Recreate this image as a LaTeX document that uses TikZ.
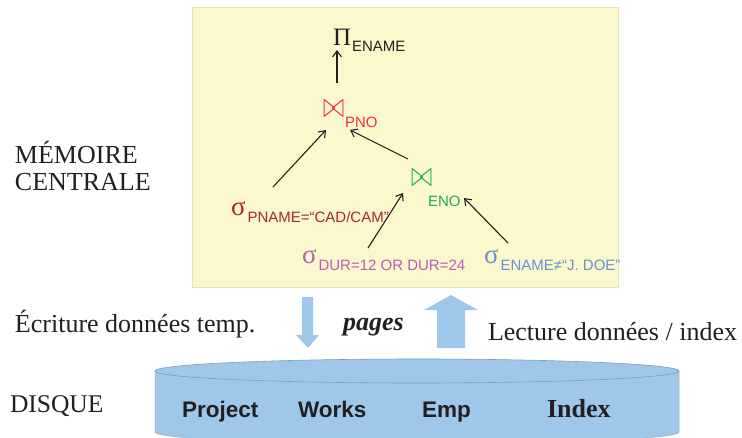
\RequirePackage{fix-cm}
\documentclass[tikz,border=0pt]{standalone}
\usepackage{fontspec}
\usepackage{graphicx}
\setmainfont{Liberation Serif}
\newfontfamily\arialf{Liberation Sans}
\usetikzlibrary{arrows.meta}
\definecolor{txt}{HTML}{231F20}
\definecolor{memfill}{HTML}{FBF8CD}
\definecolor{memedge}{HTML}{E6E2B6}
\definecolor{diskfill}{HTML}{9FC7EA}
\definecolor{diskedge}{HTML}{8AAFD0}
\definecolor{diskrim}{HTML}{7F9DB8}
\definecolor{redj}{HTML}{E8323E}
\definecolor{greenj}{HTML}{1CAF4E}
\definecolor{selred}{HTML}{A8282C}
\definecolor{selpurple}{HTML}{B160B5}
\definecolor{selblue}{HTML}{6B8FD3}
\newcommand{\subf}{\arialf\fontsize{15}{15}\selectfont}
\newcommand{\jointsym}{\scalebox{1.05}[1.45]{$\bowtie$}}
\begin{document}
\begin{tikzpicture}[x=1pt,y=-1pt,
  lbl/.style={inner sep=0pt, outer sep=0pt, anchor=base west},
  big/.style={lbl, font=\fontsize{26}{27}\selectfont, text=txt},
  arr/.style={-{Straight Barb[length=6pt,width=9pt]}, line width=1.1pt, draw=txt},
  opsym/.style={lbl, font=\fontsize{25}{25}\selectfont},
  sublbl/.style={lbl, font=\subf},
  sig/.style={lbl, font=\fontsize{27}{27}\selectfont},
  disktext/.style={lbl, font=\arialf\bfseries\fontsize{22.5}{22.5}\selectfont, text=txt},
  blockarrow/.style={fill=diskfill}]
\useasboundingbox (0,0) rectangle (742,437);

% main memory area
\filldraw[fill=memfill, draw=memedge, line width=0.6pt] (192,7) rectangle (618,287);

% tree nodes
\node[opsym, text=txt] (pisym) at (333,45) {Π};
\node[sublbl, text=txt] (ename) at (352,51) {ENAME};
\node[opsym, text=redj] (j1sym) at (323,117) {\jointsym};
\node[sublbl, text=redj] (pno) at (345,127) {PNO};
\node[opsym, text=greenj] (j2sym) at (411,186) {\jointsym};
\node[sublbl, text=greenj] (eno) at (428,206) {ENO};
\node[sig, text=selred] (s1) at (231,215) {σ\hspace{2pt}\raisebox{-7pt}{\subf PNAME=“CAD/CAM”}};
\node[sig, text=selpurple] (s2) at (302,263) {σ\hspace{2pt}\raisebox{-7pt}{\subf DUR=12 OR DUR=24}};
\node[sig, text=selblue] (s3) at (484,263) {σ\hspace{2pt}\raisebox{-7pt}{\subf ENAME≠“J. DOE”}};

% tree arrows
\draw[arr] ([shift={(14pt,34pt)}]j1sym.base west) -- ([shift={(4pt,-5pt)}]pisym.base west);
\draw[arr] ([shift={(42pt,28pt)}]s1.base west) -- ([shift={(3pt,-13pt)}]j1sym.base west);
\draw[arr] ([shift={(-3pt,27pt)}]j2sym.base west) -- ([shift={(27pt,-13pt)}]j1sym.base west);
\draw[arr] ([shift={(66pt,15pt)}]s2.base west) -- ([shift={(-8pt,-7pt)}]j2sym.base west);
\draw[arr] ([shift={(24pt,20pt)}]s3.base west) -- ([shift={(36pt,8pt)}]eno.base west);

% left labels
\node[big] (mem1) at (15,163) {MÉMOIRE};
\node[big] (mem2) at (15,190) {CENTRALE};
\node[big] (ecr) at (15,332) {Écriture données temp.};
\node[big, font=\bfseries\itshape\fontsize{26}{27}\selectfont] (pages) at (343,330) {pages};
\node[big] (lec) at (488,340) {Lecture données / index};
\node[big, font=\fontsize{25.5}{27}\selectfont] (disq) at (10,412) {DISQUE};

% block arrows
\fill[blockarrow] (302,297) -- (313,297) -- (313,335) -- (319,335) -- (308,348) -- (296,335) -- (302,335) -- cycle;
\fill[blockarrow] (437,348) -- (465,348) -- (465,310) -- (478,310) -- (451,295) -- (424,310) -- (437,310) -- cycle;

% disk cylinder
\fill[diskfill] (155,371) rectangle (679,432);
\fill[diskfill] (155,432) .. controls (155,438.6) and (272.3,444) .. (417,444)
  .. controls (561.7,444) and (679,438.6) .. (679,432) -- cycle;
\draw[diskedge, line width=0.5pt] (155,371) -- (155,432)
  .. controls (155,438.6) and (272.3,444) .. (417,444)
  .. controls (561.7,444) and (679,438.6) .. (679,432) -- (679,371);
\filldraw[fill=diskfill, draw=diskrim, line width=0.6pt] (417,371) ellipse [x radius=262, y radius=12];

\node[disktext] (proj) at (182,417) {Project};
\node[disktext] (works) at (298,417) {Works};
\node[disktext] (emp) at (422,417) {Emp};
\node[big, font=\bfseries\fontsize{26}{27}\selectfont] (idx) at (547,417) {Index};
\end{tikzpicture}
\end{document}
